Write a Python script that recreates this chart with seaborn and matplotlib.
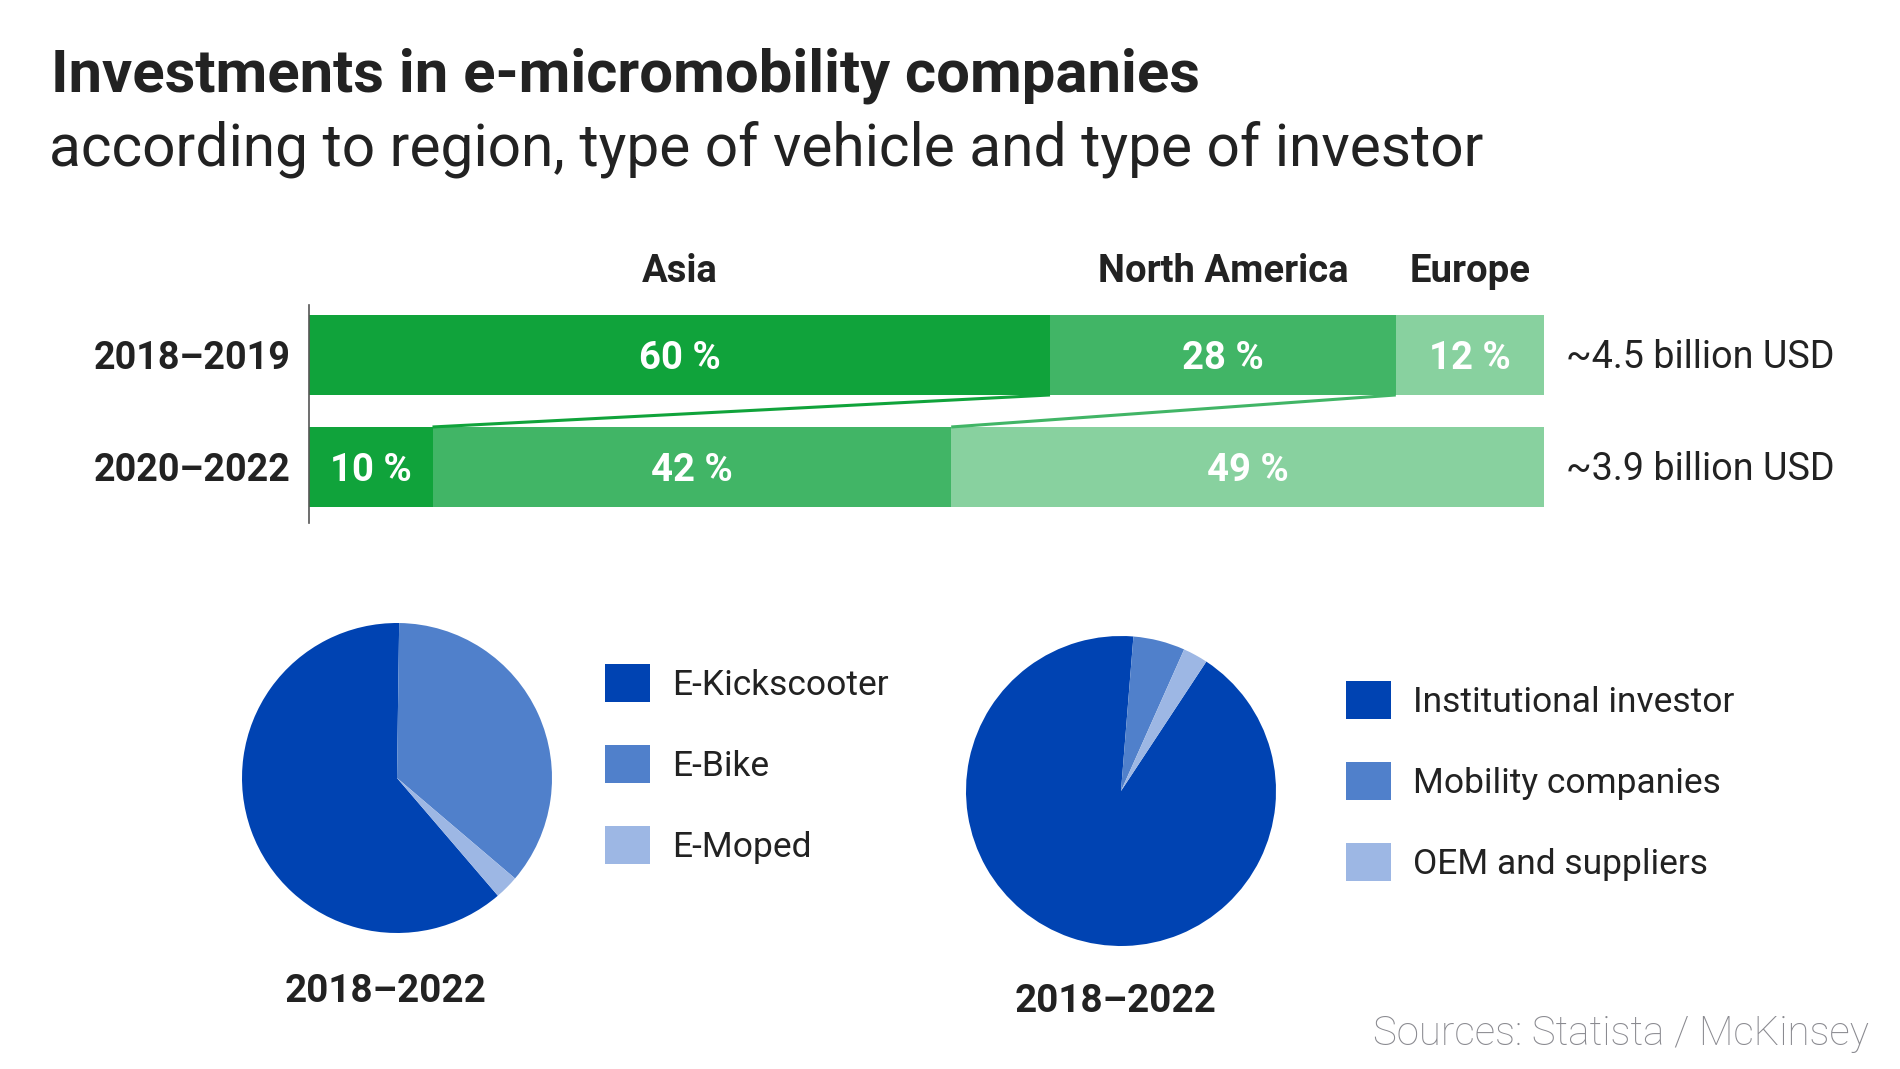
"""Investments in e-micromobility companies: region bars plus vehicle / investor pies."""

import matplotlib

matplotlib.use("Agg")

import matplotlib.pyplot as plt
import matplotlib.patches as mpatches
import matplotlib.transforms as mtransforms
import numpy as np
import pandas as pd
import seaborn as sns

# ---- data --------------------------------------------------------------
regions = ["Asia", "North America", "Europe"]
periods = ["2018–2019", "2020–2022"]
share_2018_2019 = [60, 28, 12]
share_2020_2022 = [10, 42, 49]
period_totals = ["~4.5 billion USD", "~3.9 billion USD"]

vehicle_types = ["E-Kickscooter", "E-Bike", "E-Moped"]
vehicle_share = [61.5, 36, 2.5]

investor_types = ["Institutional investor", "Mobility companies", "OEM and suppliers"]
investor_share = [92, 5.4, 2.6]

pie_caption = "2018–2022"

# ---- style -------------------------------------------------------------
W, H = 1900, 1069
GREENS = ["#10A33B", "#41B566", "#88D19F"]
BLUES = ["#0043B2", "#5080CB", "#9DB7E4"]
DARK = "#222222"

sns.set_theme(style="white")
plt.rcParams["font.family"] = ["Roboto", "DejaVu Sans"]


def fig_rect(left, top, right, bottom):
    """Pixel box -> figure fraction rect."""
    return [left / W, 1 - bottom / H, (right - left) / W, (bottom - top) / H]


fig = plt.figure(figsize=(W / 100, H / 100), dpi=100)

fig.text(51 / W, 1 - 91 / H, "Investments in e-micromobility companies",
         fontsize=43, fontweight="bold", color=DARK, va="baseline")
fig.text(49 / W, 1 - 166 / H, "according to region, type of vehicle and type of investor",
         fontsize=42.2, fontweight="normal", color=DARK, va="baseline")

# ---- stacked region bars -----------------------------------------------
shares = pd.DataFrame([share_2018_2019, share_2020_2022], index=periods, columns=regions)
cum = shares.cumsum(axis=1)

ax = fig.add_axes(fig_rect(309, 305, 1544, 523))
bar_h = 80 / 112
# draw cumulative totals from the widest down so the segments stack
for reg, col in reversed(list(zip(regions, GREENS))):
    sns.barplot(x=cum[reg].values, y=periods, orient="h", color=col,
                width=bar_h, linewidth=0, saturation=1, ax=ax)

ax.set_xlim(0, 100)
ax.set_ylim(1.5, -0.446)
ax.set_xlabel("")
ax.set_ylabel("")
ax.set_xticks([])
sns.despine(ax=ax, top=True, right=True, bottom=True, left=False)
ax.spines["left"].set_color("#555555")
ax.spines["left"].set_linewidth(1.2)
ax.tick_params(axis="y", length=0, pad=13, labelsize=27.2, labelcolor=DARK)
for lbl in ax.get_yticklabels():
    lbl.set_fontweight("bold")

# segment labels
for i, period in enumerate(periods):
    left = 0
    for reg in regions:
        v = shares.loc[period, reg]
        right = min(left + v, 100)
        ax.text((left + right) / 2, i + 0.03, f"{v} %", ha="center", va="center",
                fontsize=27.5, fontweight="bold", color="white")
        left += v

# region headers above the first bar
hdr = mtransforms.blended_transform_factory(ax.transData, fig.transFigure)
left = 0
for reg, v in zip(regions, share_2018_2019):
    ax.text(left + v / 2, 1 - 272 / H, reg, transform=hdr, ha="center", va="center",
            fontsize=27.5, fontweight="bold", color=DARK)
    left += v

# totals to the right
tot = mtransforms.blended_transform_factory(ax.transAxes, ax.transData)
for i, label in enumerate(period_totals):
    ax.text(1.0178, i + 0.02, label, transform=tot, ha="left", va="center",
            fontsize=27.2, color=DARK)

# connector lines between the shifted region boundaries
for k in range(2):
    x_top = cum.iloc[0, k]
    x_bot = cum.iloc[1, k]
    ax.plot([x_top, x_bot], [bar_h / 2, 1 - bar_h / 2], color=GREENS[k],
            lw=2.2, solid_capstyle="butt", clip_on=False)


# ---- pies --------------------------------------------------------------
def draw_pie(cx, cy, values, labels, colors, start, leg_x, leg_y, cap_x, cap_y):
    r = 155
    pad = 165
    pax = fig.add_axes(fig_rect(cx - pad, cy - pad, cx + pad, cy + pad))
    pax.pie(values, colors=colors, startangle=start, counterclock=False,
            wedgeprops=dict(linewidth=0))
    pax.set_xlim(-pad / r, pad / r)
    pax.set_ylim(-pad / r, pad / r)
    pax.set_aspect("equal")
    pax.axis("off")

    handles = [mpatches.Patch(facecolor=c, edgecolor="none", label=l)
               for c, l in zip(colors, labels)]
    fig.legend(handles=handles, loc="upper left",
               bbox_to_anchor=(leg_x / W, 1 - leg_y / H), bbox_transform=fig.transFigure,
               frameon=False, fontsize=25.5, handlelength=1.27, handleheight=1.27,
               handletextpad=0.62, labelspacing=1.22, borderpad=0, borderaxespad=0,
               labelcolor=DARK)

    fig.text(cap_x / W, 1 - cap_y / H, pie_caption, ha="center", va="center",
             fontsize=27.8, fontweight="bold", color=DARK)


draw_pie(397, 778, vehicle_share, vehicle_types, BLUES, -49.4,
         605, 664, 386, 992)
draw_pie(1121, 791, investor_share, investor_types, BLUES, 56.6,
         1346, 681, 1116, 1001)

fig.text(1869 / W, 1 - 1045 / H, "Sources: Statista / McKinsey", ha="right",
         va="baseline", fontsize=29, fontweight="light", color="#8A8A90")

fig.savefig("out.png", dpi=100, facecolor="white")
